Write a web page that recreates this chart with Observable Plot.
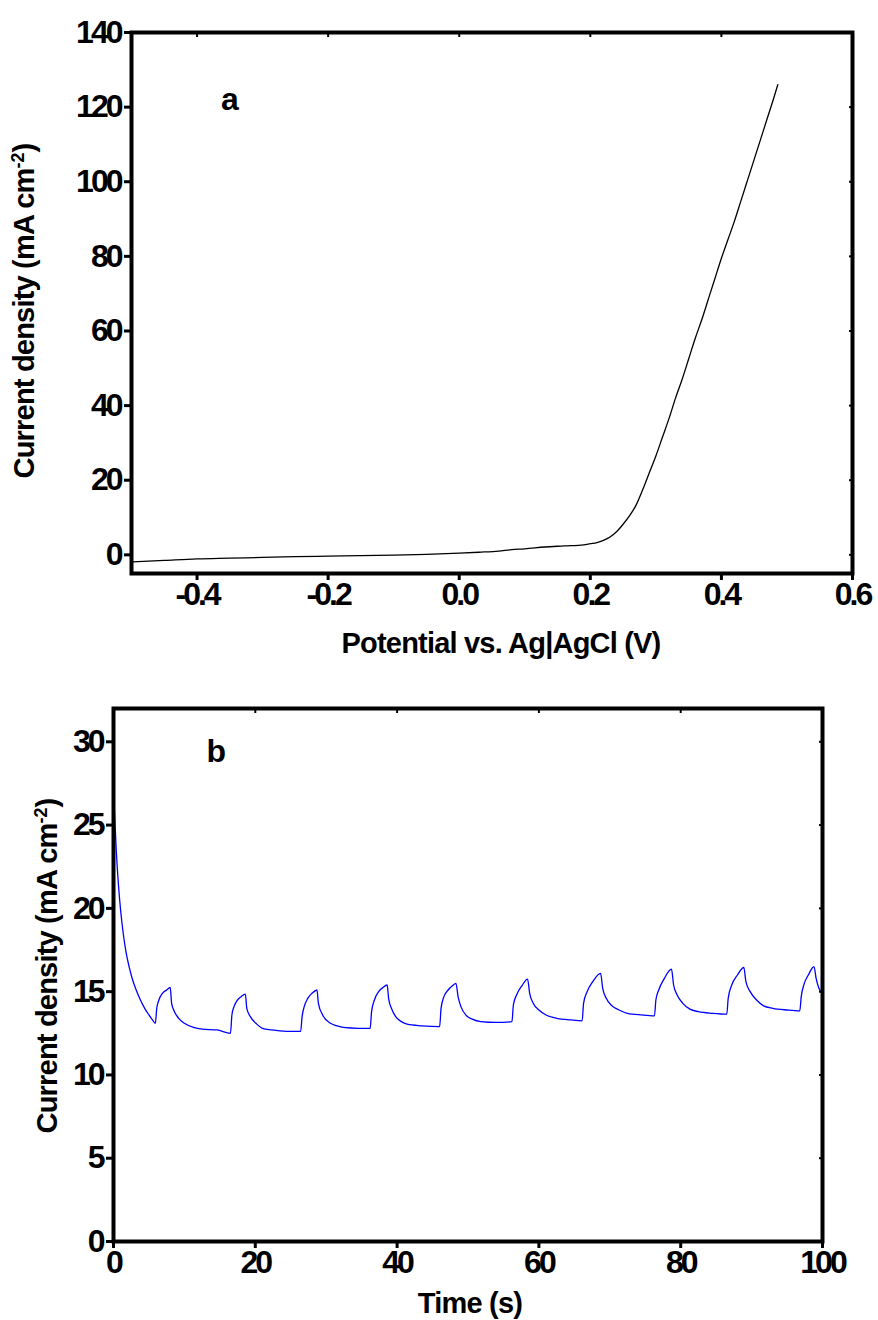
<!DOCTYPE html>
<html>
<head>
<meta charset="utf-8">
<script src="https://cdn.jsdelivr.net/npm/d3@7"></script>
<script src="https://cdn.jsdelivr.net/npm/@observablehq/plot@0.6"></script>
<style>
  html, body { margin: 0; padding: 0; background: #fff; }
  #chart { width: 878px; }
  #chart svg { display: block; }
</style>
</head>
<body>
<div id="chart"></div>
<script>
// ---------- Panel a: linear sweep voltammetry ----------
const potentialV = [-0.5, -0.45, -0.4, -0.35, -0.3, -0.25, -0.2, -0.15, -0.1, -0.05, 0.0, 0.03, 0.06, 0.08, 0.1, 0.13, 0.16, 0.19, 0.2, 0.21, 0.22, 0.23, 0.24, 0.25, 0.26, 0.27, 0.28, 0.29, 0.30, 0.31, 0.32, 0.33, 0.34, 0.35, 0.36, 0.37, 0.38, 0.39, 0.40, 0.41, 0.42, 0.43, 0.44, 0.45, 0.46, 0.47, 0.48, 0.486];
const currentA   = [-1.9, -1.5, -1.1, -0.9, -0.7, -0.5, -0.35, -0.2, -0.05, 0.15, 0.45, 0.7, 1.0, 1.4, 1.6, 2.1, 2.4, 2.7, 3.0, 3.3, 3.9, 4.8, 6.2, 8.2, 10.5, 13.4, 17.5, 22, 26.5, 31.5, 36.5, 42, 47, 52.5, 58, 63, 68.5, 74, 79.5, 84.5, 89.5, 95, 100.5, 106, 111.5, 117, 122.5, 126];
const xTicksA = [-0.4, -0.2, 0.0, 0.2, 0.4, 0.6];
const yTicksA = [0, 20, 40, 60, 80, 100, 120, 140];
const xDomainA = [-0.5, 0.6];
const yDomainA = [-5, 140];
const panelA = [{label: "a", x: -0.35, y: 122}];
const xLabelA = "Potential vs. Ag|AgCl (V)";

// ---------- Panel b: chopped-light chronoamperometry ----------
const timeS = [0, 0.2, 0.4, 0.7, 1.0, 1.4, 1.8, 2.2, 2.7, 3.2, 3.8, 4.4, 5.0, 5.5, 5.9,
  6.1, 6.4, 6.9, 7.5, 8.0, 8.2, 8.6, 9.2, 10.0, 11.3, 12.5, 14.6, 16.5,
  16.7, 17.0, 17.4, 18.0, 18.6, 18.8, 19.3, 20.2, 21.0, 22.3, 24.4, 26.4,
  26.6, 26.9, 27.4, 28.0, 28.7, 28.9, 29.5, 30.6, 31.5, 32.4, 34.5, 36.2,
  36.4, 36.8, 37.4, 38.0, 38.6, 38.8, 39.2, 39.8, 40.6, 41.4, 43.5, 46.0,
  46.2, 46.6, 47.2, 47.8, 48.3, 48.6, 49.0, 49.8, 50.6, 51.8, 54.0, 56.2,
  56.4, 56.9, 57.6, 58.4, 58.7, 59.2, 60.0, 61.0, 62.5, 64.5, 66.1,
  66.3, 66.8, 67.6, 68.7, 69.0, 69.5, 70.3, 71.3, 72.5, 74.5, 76.3,
  76.5, 76.9, 77.7, 78.7, 79.0, 79.5, 80.3, 81.3, 82.5, 84.5, 86.5,
  86.7, 87.2, 88.0, 88.9, 89.2, 89.8, 90.7, 91.7, 93.0, 95.0, 96.8,
  97.0, 97.4, 98.0, 98.8, 99.1, 99.5, 100];
const currentB = [27.0, 25.2, 23.4, 21.4, 19.9, 18.4, 17.3, 16.5, 15.7, 15.1, 14.5, 14.0, 13.6, 13.3, 13.1,
  14.0, 14.5, 14.9, 15.1, 15.25, 14.3, 13.8, 13.4, 13.1, 12.85, 12.75, 12.7, 12.5,
  13.6, 14.1, 14.45, 14.7, 14.85, 14.0, 13.5, 13.05, 12.8, 12.7, 12.62, 12.62,
  13.5, 14.1, 14.6, 14.9, 15.1, 14.3, 13.6, 13.1, 12.95, 12.85, 12.8, 12.8,
  13.8, 14.5, 15.0, 15.25, 15.4, 14.6, 14.0, 13.5, 13.2, 13.05, 12.95, 12.9,
  14.0, 14.7, 15.1, 15.35, 15.5, 14.7, 14.1, 13.55, 13.35, 13.2, 13.15, 13.2,
  14.2, 14.85, 15.35, 15.75, 14.9, 14.3, 13.9, 13.6, 13.4, 13.3, 13.25,
  14.3, 15.0, 15.6, 16.1, 15.2, 14.6, 14.15, 13.9, 13.7, 13.6, 13.55,
  14.5, 15.1, 15.8, 16.35, 15.4, 14.8, 14.3, 13.95, 13.8, 13.7, 13.65,
  14.6, 15.4, 16.0, 16.45, 15.6, 15.0, 14.5, 14.15, 14.0, 13.9, 13.85,
  14.7, 15.45, 16.0, 16.5, 15.8, 15.2, 14.85];
const xTicksB = [0, 20, 40, 60, 80, 100];
const yTicksB = [0, 5, 10, 15, 20, 25, 30];
const xDomainB = [0, 100];
const yDomainB = [0, 32];
const panelB = [{label: "b", x: 14.5, y: 29.4}];
const xLabelB = "Time (s)";

const yLabelMain = "Current density (mA cm";
const yLabelSup = "-2";
const yLabelEnd = ")";

// ---------- rendering ----------
const FONT = "'Liberation Sans', Arial, Helvetica, sans-serif";
const fmtA = d => (Math.abs(d) < 1e-9 ? 0 : d).toFixed(1);
const W = 878, H = 660;

function axisStyle() {
  return {fontFamily: FONT, fontSize: "32px", fontWeight: "bold", letterSpacing: "-3px", color: "black", background: "white", overflow: "visible"};
}

function makePanel(cfg) {
  const svg = Plot.plot({
    width: W, height: H,
    marginLeft: cfg.ml, marginRight: cfg.mr, marginTop: cfg.mt, marginBottom: cfg.mb,
    style: axisStyle(),
    x: {domain: cfg.xDomain},
    y: {domain: cfg.yDomain},
    marks: [
      Plot.line(cfg.data, {x: "x", y: "y", stroke: cfg.color, strokeWidth: 1.3, curve: "monotone-x"}),
      Plot.frame({stroke: "black", strokeWidth: 4}),
      Plot.axisX(cfg.xTicks, {anchor: "bottom", tickSize: 7, strokeWidth: 3, tickPadding: 2, tickFormat: cfg.xFmt, label: null}),
      Plot.axisY(cfg.yTicks, {anchor: "left", tickSize: 7, strokeWidth: 3, tickPadding: 4, label: null}),
      Plot.axisY(cfg.yTicks, {anchor: "right", tickSize: 4, dx: -4, strokeWidth: 2, tickFormat: () => "", label: null}),
      Plot.axisX(cfg.xTicks, {anchor: "top", tickSize: 4, dy: 4, strokeWidth: 2, tickFormat: () => "", label: null}),
      Plot.text(cfg.panel, {x: "x", y: "y", text: "label", fontSize: 32, fontWeight: "bold", fill: "black", style: "letter-spacing:0"})
    ]
  });
  const s = d3.select(svg);
  s.selectAll("g[aria-label='text'] text").style("letter-spacing", "0px");
  // x-axis title
  s.append("text")
    .attr("x", cfg.xLabelX).attr("y", cfg.xLabelY)
    .attr("text-anchor", "middle")
    .style("font-family", FONT).style("font-size", "29px").style("font-weight", "bold").style("letter-spacing", "-0.8px")
    .attr("fill", "black")
    .text(cfg.xLabel);
  // y-axis title with superscript
  const t = s.append("text")
    .attr("transform", `translate(${cfg.yLabelX},${cfg.yLabelY}) rotate(-90)`)
    .attr("text-anchor", "middle")
    .style("font-family", FONT).style("font-size", "29px").style("font-weight", "bold").style("letter-spacing", "-0.8px")
    .attr("fill", "black");
  t.append("tspan").text(yLabelMain);
  t.append("tspan").attr("dy", "-10").style("font-size", "18px").style("letter-spacing", "0px").text(yLabelSup);
  t.append("tspan").attr("dy", "10").text(yLabelEnd);
  return svg;
}

const root = document.getElementById("chart");
root.appendChild(makePanel({
  data: potentialV.map((v, i) => ({x: v, y: currentA[i]})),
  color: "black",
  ml: 131, mr: 26, mt: 32, mb: 87,
  xDomain: xDomainA, yDomain: yDomainA,
  xTicks: xTicksA, yTicks: yTicksA, xFmt: fmtA,
  panel: panelA,
  xLabel: xLabelA, xLabelX: 501, xLabelY: 653,
  yLabelX: 34, yLabelY: 311
}));
root.appendChild(makePanel({
  data: timeS.map((v, i) => ({x: v, y: currentB[i]})),
  color: "#0000ff",
  ml: 113, mr: 56, mt: 48, mb: 79,
  xDomain: xDomainB, yDomain: yDomainB,
  xTicks: xTicksB, yTicks: yTicksB, xFmt: d => String(d),
  panel: panelB,
  xLabel: xLabelB, xLabelX: 470, xLabelY: 653,
  yLabelX: 57, yLabelY: 306
}));
</script>
</body>
</html>
